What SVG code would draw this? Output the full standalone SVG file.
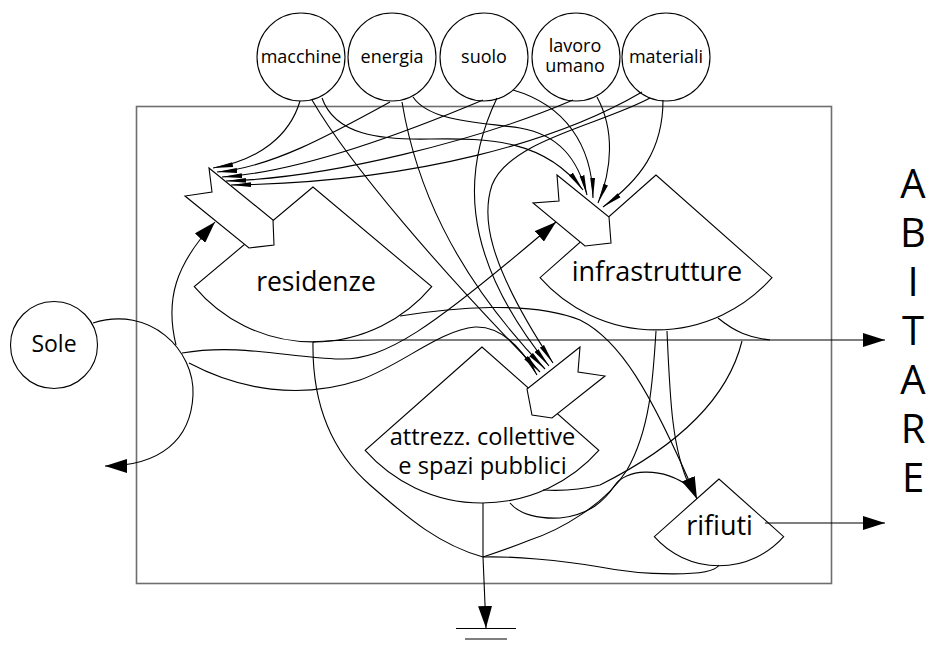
<svg xmlns="http://www.w3.org/2000/svg" width="936" height="648" viewBox="0 0 936 648">
<style>
.frame{fill:none;stroke:#6e6e6e;stroke-width:1.6}
.nd{fill:#fff;stroke:#000;stroke-width:1.1}
.c{fill:none;stroke:#000;stroke-width:1.1}
.sm{marker-end:url(#sa)}
.bg{marker-end:url(#ba)}
text{font-family:"Open Sans","Liberation Sans",sans-serif;fill:#000;text-anchor:middle}
.t1{font-size:18px}
.t3{font-size:40px}
</style>
<defs>
<marker id="sa" viewBox="0 0 20 6" refX="20" refY="3" markerWidth="20" markerHeight="6" markerUnits="userSpaceOnUse" orient="auto"><path d="M0,0.6 L20,3 L0,5.4 z" fill="#000"/></marker>
<marker id="ba" viewBox="0 0 22 14" refX="22" refY="7" markerWidth="22" markerHeight="14" markerUnits="userSpaceOnUse" orient="auto"><path d="M0,0 L22,7 L0,14 z" fill="#000"/></marker>
</defs>
<rect id="boundary" class="frame" x="136.5" y="106.5" width="695" height="477"/>
<g id="macchine"><circle class="nd" cx="301" cy="57" r="44"/><text class="t1" x="301" y="63">macchine</text></g>
<g id="energia"><circle class="nd" cx="392" cy="57" r="44"/><text class="t1" x="392" y="63">energia</text></g>
<g id="suolo"><circle class="nd" cx="484" cy="57" r="44"/><text class="t1" x="484" y="63">suolo</text></g>
<g id="lavoro"><circle class="nd" cx="576" cy="57" r="44"/><text class="t1" x="575" y="52">lavoro</text><text class="t1" x="575" y="72">umano</text></g>
<g id="materiali"><circle class="nd" cx="666" cy="57" r="44"/><text class="t1" x="666" y="63">materiali</text></g>
<g id="sole"><circle class="nd" cx="54" cy="345" r="43.5"/><text style="font-size:23px" x="54" y="352">Sole</text></g>
<g id="residenze"><path class="nd" d="M313,187 L194.3,286.6 A155,155 0 0 0 431.7,286.6 Z"/><polygon class="nd" points="209,168 273,220 274,245 249,248 185,196 212,192"/><text style="font-size:26.5px" x="316" y="291">residenze</text></g>
<g id="infrastrutture"><path class="nd" d="M656,175 L540,277.7 A155,155 0 0 0 772,277.7 Z"/><polygon class="nd" points="557,175 609,217 611,243 585,246 533,203 559,201"/><text style="font-size:27px" x="657" y="281">infrastrutture</text></g>
<g id="attrezzature"><path class="nd" d="M482,347 L365.2,450.4 A156,156 0 0 0 598.8,450.4 Z"/><polygon class="nd" points="580,347 527,389 532,415 552,418 605,376 578,372"/><text style="font-size:23.6px" x="482.5" y="445">attrezz. collettive</text><text style="font-size:23.6px" x="482.5" y="474">e spazi pubblici</text></g>
<g id="rifiuti"><path class="nd" d="M719,479 L654.3,536.7 A86.5,86.5 0 0 0 783.7,536.7 Z"/><text style="font-size:27px" x="719.5" y="535">rifiuti</text></g>
<g id="abitare"><text class="t3" x="913" y="198">A</text><text class="t3" x="913" y="247">B</text><text class="t3" x="913" y="296">I</text><text class="t3" x="913" y="345">T</text><text class="t3" x="913" y="394">A</text><text class="t3" x="913" y="443">R</text><text class="t3" x="913" y="492">E</text></g>
<g id="ground"><line class="c" x1="456" y1="628.5" x2="516" y2="628.5"/><line class="c" x1="465" y1="639" x2="507" y2="639"/></g>
<g id="connectors">
<path class="c sm" d="M300,101 C290,135 260,160 213,168"/>
<path class="c sm" d="M390,102 C330,135 270,168 217,172"/>
<path class="c sm" d="M483,100 C400,135 300,172 222,177"/>
<path class="c sm" d="M573,100 C480,140 330,178 226,181"/>
<path class="c sm" d="M642,92 C560,140 420,182 231,185"/>
<path class="c sm" d="M322,98 C335,135 380,140 430,139 C490,138 545,140 583,190"/>
<path class="c sm" d="M413,97 C430,122 480,122 520,128 C560,135 578,160 587,195"/>
<path class="c sm" d="M513,90 C565,105 592,145 593,198"/>
<path class="c sm" d="M597,97 C615,130 612,170 598,203"/>
<path class="c sm" d="M663,100 C663,150 640,180 603,207"/>
<path class="c sm" d="M312,100 C350,165 440,270 540,372"/>
<path class="c sm" d="M402,102 C415,180 450,270 545,369"/>
<path class="c sm" d="M497,98 C465,165 455,250 549,366"/>
<path class="c sm" d="M650,98 C600,125 510,140 492,185 C482,215 485,260 553,363"/>
<path class="c sm" d="M189,363 C240,390 300,400 360,380 C400,366 440,330 475,327 C500,326 520,345 537,375"/>
<path class="c bg" d="M93,323 C150,305 195,350 193,395 C191,440 160,466 105,466"/>
<path class="c bg" d="M176,345 C165,300 175,265 215,222"/>
<path class="c bg" d="M182,353 C240,343 290,358 340,359 C385,360 430,330 556,222"/>
<path class="c bg" d="M313,342 C330,340 350,340 380,340 L885,340"/>
<path class="c" d="M718,318 C735,332 750,338 770,340"/>
<path class="c bg" d="M400,316 C450,308 530,300 580,320 C620,340 650,390 697,499"/>
<path class="c" d="M656,331 C653,380 650,430 627,470 C605,505 560,530 530,540 C510,548 495,553 483,557"/>
<path class="c" d="M742,341 C730,390 690,440 600,485 C580,490 560,491 543,490"/>
<path class="c" d="M667,331 C670,400 672,450 690,487"/>
<path class="c" d="M510,503 C520,515 540,519 560,518 C590,515 605,500 615,485 C625,470 660,465 690,487"/>
<path class="c" d="M483,503 L483,557"/>
<path class="c" d="M313,342 C312,400 330,450 370,485 C410,520 440,545 483,557"/>
<path class="c" d="M719,565 C712,578 640,575 600,567 C560,560 510,556 483,557"/>
<path class="c bg" d="M483,557 L486,628"/>
<path class="c bg" d="M765,523 L885,523"/>
</g>
</svg>
